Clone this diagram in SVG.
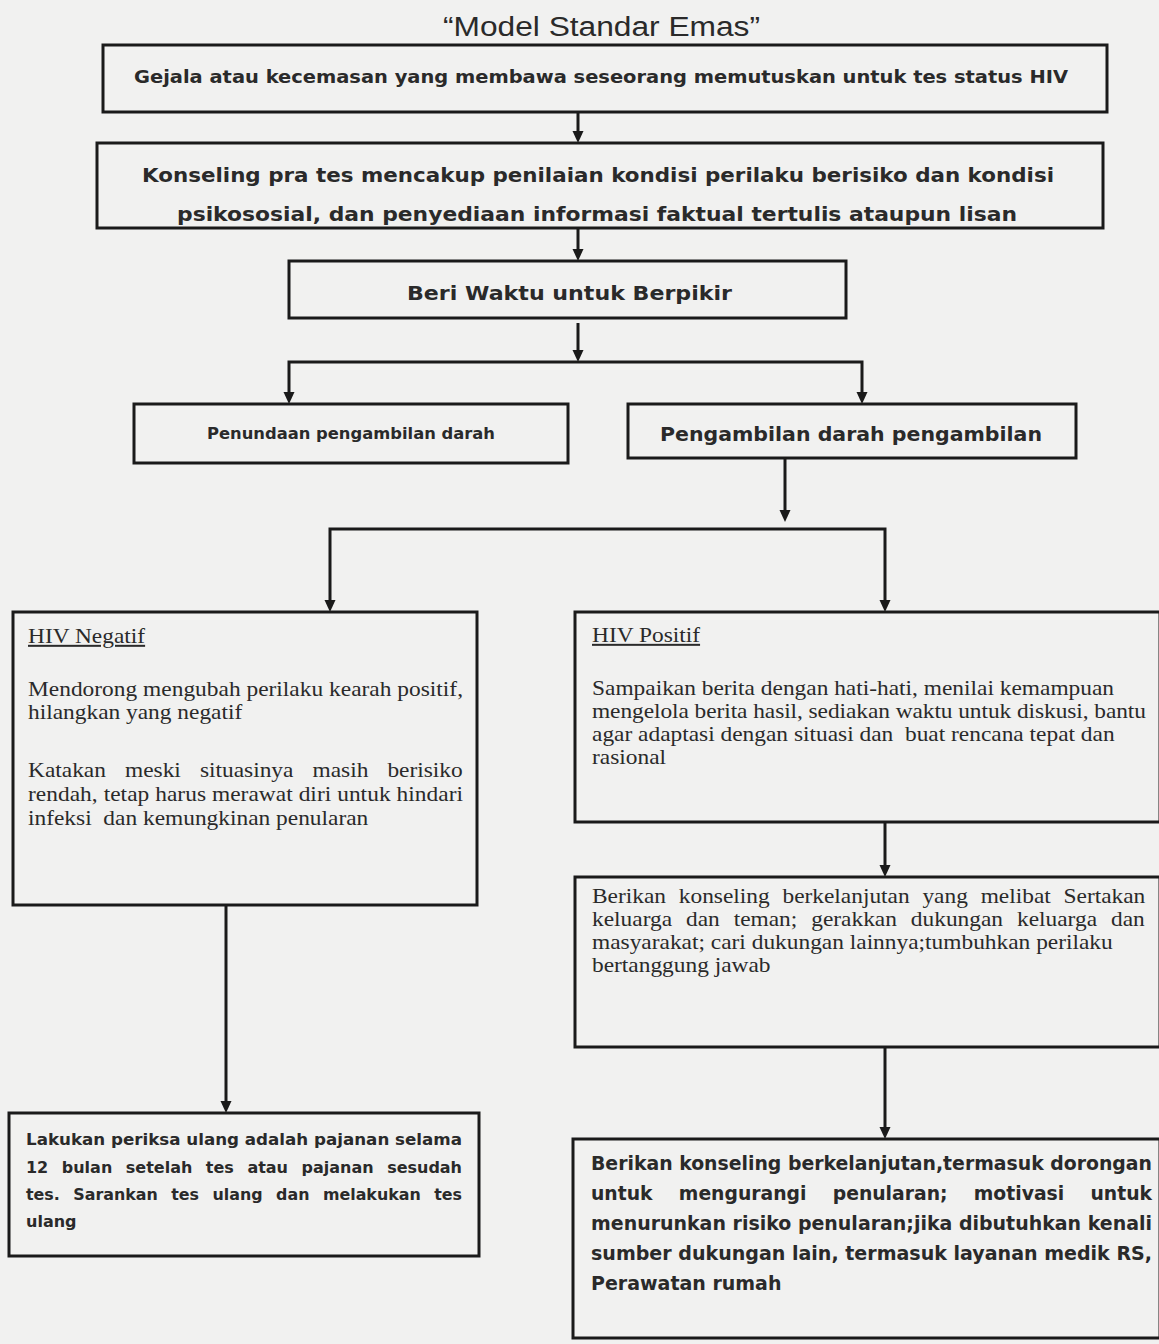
<svg xmlns="http://www.w3.org/2000/svg" width="1159" height="1344" viewBox="0 0 1159 1344">
<style>
.box{fill:none;stroke:#1a1a1a;stroke-width:3}
.c{fill:#2a2a2a;font-family:"DejaVu Sans","Liberation Sans",sans-serif;font-weight:bold}
.t{fill:#2a2a2a;font-family:"Liberation Serif","Times New Roman",serif;font-size:20px}
.ln{fill:none;stroke:#1a1a1a;stroke-width:3}
</style>
<defs>
<marker id="ah" markerWidth="12" markerHeight="12" refX="6" refY="6" orient="auto-start-reverse" markerUnits="userSpaceOnUse" viewBox="0 0 12 12">
<path d="M0,0.5 L12,6 L0,11.5 Z" fill="#1a1a1a"/>
</marker>
</defs>
<rect x="0" y="0" width="1159" height="1344" fill="#f1f1f0"/>
<text x="443" y="36" font-family="Liberation Sans, Arial, sans-serif" font-size="27" fill="#2a2a2a" textLength="317" lengthAdjust="spacingAndGlyphs">“Model Standar Emas”</text>

<g id="connectors">
<path class="ln" d="M578,112 V137" marker-end="url(#ah)"/>
<path class="ln" d="M578,228 V255" marker-end="url(#ah)"/>
<path class="ln" d="M578,323 V356" marker-end="url(#ah)"/>
<path class="ln" d="M289,398 V362 H862 V398" marker-start="url(#ah)" marker-end="url(#ah)"/>
<path class="ln" d="M785,458 V516" marker-end="url(#ah)"/>
<path class="ln" d="M330,606 V529 H885 V606" marker-start="url(#ah)" marker-end="url(#ah)"/>
<path class="ln" d="M885,822 V871" marker-end="url(#ah)"/>
<path class="ln" d="M226,905 V1107" marker-end="url(#ah)"/>
<path class="ln" d="M885,1047 V1133" marker-end="url(#ah)"/>
</g>

<g id="n1">
<rect class="box" x="103" y="45" width="1004" height="67"/>
<text class="c" x="134" y="83" font-size="17" textLength="934" lengthAdjust="spacingAndGlyphs">Gejala atau kecemasan yang membawa seseorang memutuskan untuk tes status HIV</text>
</g>

<g id="n2">
<text class="c" x="142" y="182" font-size="20" textLength="912" lengthAdjust="spacingAndGlyphs">Konseling pra tes mencakup penilaian kondisi perilaku berisiko dan kondisi</text>
<text class="c" x="177" y="221" font-size="20" textLength="840" lengthAdjust="spacingAndGlyphs">psikososial, dan penyediaan informasi faktual tertulis ataupun lisan</text>
<rect class="box" x="97" y="143" width="1006" height="85"/>
</g>

<g id="n3">
<rect class="box" x="289" y="261" width="557" height="57"/>
<text class="c" x="407" y="300" font-size="20" textLength="325" lengthAdjust="spacingAndGlyphs">Beri Waktu untuk Berpikir</text>
</g>

<g id="n4">
<rect class="box" x="134" y="404" width="434" height="59"/>
<text class="c" x="207" y="439" font-size="15" textLength="288" lengthAdjust="spacingAndGlyphs">Penundaan pengambilan darah</text>
</g>

<g id="n5">
<rect class="box" x="628" y="404" width="448" height="54"/>
<text class="c" x="660" y="441" font-size="20" textLength="382" lengthAdjust="spacingAndGlyphs">Pengambilan darah pengambilan</text>
</g>

<g id="n6">
<rect class="box" x="13" y="612" width="464" height="293"/>
<g transform="translate(28 0) scale(1.17 1)">
<text class="t" x="0" y="643" text-decoration="underline">HIV Negatif</text>
<text class="t" x="0" y="696" textLength="371.8" lengthAdjust="spacing">Mendorong mengubah perilaku kearah positif,</text>
<text class="t" x="0" y="719">hilangkan yang negatif</text>
<text class="t" x="0" y="777" word-spacing="11.3">Katakan meski situasinya masih berisiko</text>
<text class="t" x="0" y="801" textLength="371.8" lengthAdjust="spacing">rendah, tetap harus merawat diri untuk hindari</text>
<text class="t" x="0" y="825" xml:space="preserve">infeksi  dan kemungkinan penularan</text>
</g>
</g>

<g id="n7">
<rect class="box" x="575" y="612" width="585" height="210"/>
<g transform="translate(592 0) scale(1.17 1)">
<text class="t" x="0" y="642" text-decoration="underline">HIV Positif</text>
<text class="t" x="0" y="695">Sampaikan berita dengan hati-hati, menilai kemampuan</text>
<text class="t" x="0" y="718" textLength="473.5" lengthAdjust="spacing">mengelola berita hasil, sediakan waktu untuk diskusi, bantu</text>
<text class="t" x="0" y="741" xml:space="preserve">agar adaptasi dengan situasi dan  buat rencana tepat dan</text>
<text class="t" x="0" y="764">rasional</text>
</g>
</g>

<g id="n8">
<rect class="box" x="575" y="877" width="585" height="170"/>
<g transform="translate(592 0) scale(1.17 1)">
<text class="t" x="0" y="903" word-spacing="5.9">Berikan konseling berkelanjutan yang melibat Sertakan</text>
<text class="t" x="0" y="926" word-spacing="6.9">keluarga dan teman; gerakkan dukungan keluarga dan</text>
<text class="t" x="0" y="949">masyarakat; cari dukungan lainnya;tumbuhkan perilaku</text>
<text class="t" x="0" y="972">bertanggung jawab</text>
</g>
</g>

<g id="n9">
<rect class="box" x="9" y="1113" width="470" height="143"/>
<text class="c" x="26" y="1145" font-size="16" textLength="436" lengthAdjust="spacingAndGlyphs">Lakukan periksa ulang adalah pajanan selama</text>
<text class="c" x="26" y="1173" font-size="16" word-spacing="8" textLength="436" lengthAdjust="spacingAndGlyphs">12 bulan setelah tes atau pajanan sesudah</text>
<text class="c" x="26" y="1200" font-size="16" word-spacing="8" textLength="436" lengthAdjust="spacingAndGlyphs">tes. Sarankan tes ulang dan melakukan tes</text>
<text class="c" x="26" y="1227" font-size="16">ulang</text>
</g>

<g id="n10">
<rect class="box" x="573" y="1139" width="587" height="199"/>
<text class="c" x="591" y="1170" font-size="19" textLength="561" lengthAdjust="spacingAndGlyphs">Berikan konseling berkelanjutan,termasuk dorongan</text>
<text class="c" x="591" y="1200" font-size="19" word-spacing="20" textLength="561" lengthAdjust="spacingAndGlyphs">untuk mengurangi penularan; motivasi untuk</text>
<text class="c" x="591" y="1230" font-size="19" textLength="561" lengthAdjust="spacingAndGlyphs">menurunkan risiko penularan;jika dibutuhkan kenali</text>
<text class="c" x="591" y="1260" font-size="19" textLength="561" lengthAdjust="spacingAndGlyphs">sumber dukungan lain, termasuk layanan medik RS,</text>
<text class="c" x="591" y="1290" font-size="19">Perawatan rumah</text>
</g>
</svg>
